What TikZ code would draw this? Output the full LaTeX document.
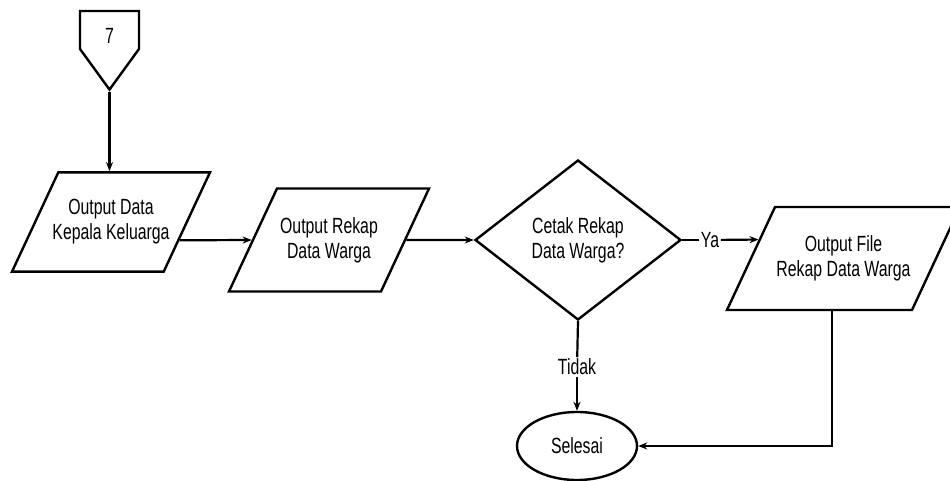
\documentclass[tikz,border=0pt]{standalone}
\usepackage{fontspec}
\setmainfont{Liberation Sans}[FakeStretch=0.72]
\usetikzlibrary{calc}
\usetikzlibrary{arrows.meta}
\usetikzlibrary{shapes.geometric}
\usetikzlibrary{shapes.symbols}

\tikzset{
    every node/.style={font=\fontsize{22}{25}\selectfont},
    shp/.style={draw, line width=2.4pt, align=center, inner sep=0pt},
    io/.style={shp, trapezium, trapezium left angle=65, trapezium right angle=115, trapezium stretches body, inner xsep=-10pt},
    decision/.style={shp, diamond},
    terminal/.style={shp, ellipse},
    offpage/.style={shp, signal, signal to=south, signal pointer angle=72},
    conn/.style={line width=2.2pt},
    arr/.style={conn, -{Stealth[length=9pt, width=7pt]}},
    lbl/.style={inner sep=1.5pt},
}

\begin{document}
\begin{tikzpicture}[x=1pt, y=-1pt]
    \useasboundingbox (0, 0) rectangle (950, 481);

    \node[offpage, minimum width=59pt, minimum height=44pt] (off7) at (109.5, 30) {\raisebox{-6pt}[15.8pt][0pt]{7}};
    \node[io, minimum width=198pt, inner ysep=27.2pt] (p1) at (111, 222) {Output Data\\Kepala Keluarga};
    \node[io, minimum width=200pt, inner ysep=28.7pt] (p2) at (329, 240) {Output Rekap\\Data Warga};
    \node[decision, minimum width=206pt, minimum height=160pt] (dia) at (578, 240) {Cetak Rekap\\Data Warga?};
    \node[io, minimum width=233pt, inner ysep=28.7pt] (p3) at (843.5, 258.5) {Output File\\Rekap Data Warga};
    \node[terminal, minimum width=120pt, minimum height=68pt] (end) at (577, 446) {Selesai};

    \node[lbl] (ya) at (710, 240) {Ya};
    \node[lbl] (tidak) at (577, 367) {Tidak};

    \coordinate (p1out) at ($(p1.top right corner)!0.68!(p1.bottom right corner)$);
    \coordinate (p3in) at ($(p3.top left corner)!0.32!(p3.bottom left corner)$);
    \coordinate (p3out) at ($(p3.bottom left corner)!0.57!(p3.bottom right corner)$);

    \draw[arr] (off7.south) -- (off7.south |- p1.north);
    \draw[arr] (p1out) -- (p2.west);
    \draw[arr] (p2.east) -- (dia.west);
    \draw[conn] (dia.east) -- (ya);
    \draw[arr] (ya) -- (p3in);
    \draw[conn] (dia.south) -- (tidak);
    \draw[arr] (tidak) -- (end.north);
    \draw[arr] (p3out) |- (end.east);

\end{tikzpicture}
\end{document}
